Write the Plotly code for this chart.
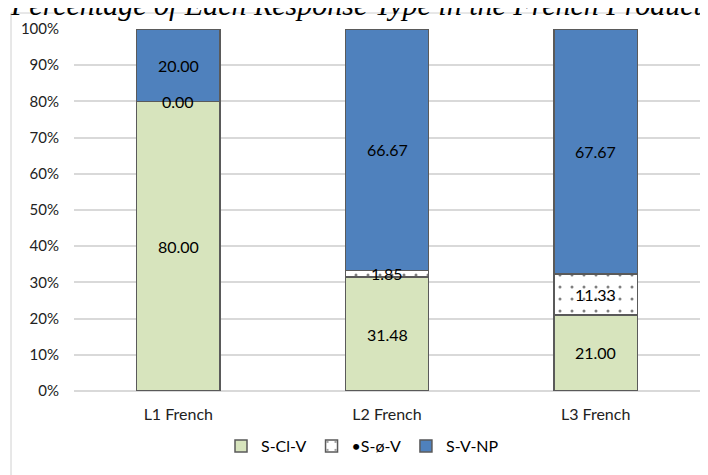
import plotly.graph_objects as go

categories = ["L1 French", "L2 French", "L3 French"]
s_cl_v = [80.00, 31.48, 21.00]
s_o_v = [0.00, 1.85, 11.33]
s_v_np = [20.00, 66.67, 67.67]
series_names = ["S-Cl-V", "•S-ø-V", "S-V-NP"]
y_ticks = [0, 10, 20, 30, 40, 50, 60, 70, 80, 90, 100]
y_tick_text = [f"{v}%" for v in y_ticks]
title_text = "Percentage of Each Response Type in the French Production Task"

FONT = "Lato, 'Liberation Sans', sans-serif"
EDGE = "#5a5a5a"

# the page body has an 8px margin; work in page pixels and convert
OFF = 8
PL, PR, PT, PB = 74, 700, 29, 391          # plot area in page pixels
L, R, T, B = PL - OFF, PR - OFF, PT - OFF, PB - OFF
W, H = R - L, B - T


def px_x(page_x):
    return (page_x - PL) / W


def px_y(page_y):
    return (PB - page_y) / H


fig = go.Figure()
fig.add_bar(x=categories, y=s_cl_v, name=series_names[0],
            marker=dict(color="#d7e4bd", line=dict(color=EDGE, width=1.5)))
fig.add_bar(x=categories, y=s_o_v, name=series_names[1],
            marker=dict(color="white", line=dict(color=EDGE, width=1.5),
                        pattern=dict(shape=".", fgcolor="black", bgcolor="white",
                                     size=12, solidity=0.05)))
fig.add_bar(x=categories, y=s_v_np, name=series_names[2],
            marker=dict(color="#4f81bd", line=dict(color=EDGE, width=1.5)))

# data labels at the middle of each segment
for i, cat in enumerate(categories):
    base = 0
    for vals in (s_cl_v, s_o_v, s_v_np):
        v = vals[i]
        fig.add_annotation(x=cat, y=base + v / 2, text=f"{v:.2f}", showarrow=False,
                           font=dict(family=FONT, size=16, color="black"),
                           xref="x", yref="y")
        base += v

# title, clipped at the top of the page as in the reference
fig.add_annotation(xref="paper", yref="paper", x=px_x(8), y=px_y(23),
                   xanchor="left", yanchor="bottom", text=f"<i>{title_text}</i>",
                   showarrow=False,
                   font=dict(family="'Liberation Serif', 'Times New Roman', serif", size=30,
                             color="black"))

# outer chart frame
fig.add_shape(type="rect", xref="paper", yref="paper",
              x0=px_x(11), x1=px_x(720), y0=px_y(490), y1=px_y(13),
              line=dict(color="#d0d0d0", width=1), fillcolor="rgba(0,0,0,0)", layer="below")

fig.update_layout(
    barmode="stack",
    bargap=0.6,
    width=708, height=475,
    margin=dict(l=L, r=708 - R, t=T, b=475 - B, autoexpand=False),
    paper_bgcolor="white", plot_bgcolor="white",
    font=dict(family=FONT, size=15, color="#222222"),
    showlegend=True,
    legend=dict(orientation="h", x=px_x(221), xanchor="left", y=px_y(446),
                yanchor="middle", font=dict(family=FONT, size=16, color="black"),
                traceorder="normal", itemwidth=30, bgcolor="rgba(0,0,0,0)"),
    xaxis=dict(showgrid=False, showline=False, ticks="", ticklabelstandoff=12,
               tickfont=dict(family=FONT, size=16, color="#222222")),
    yaxis=dict(range=[0, 100], tickmode="array", tickvals=y_ticks, ticktext=y_tick_text,
               showgrid=True, gridcolor="#d9d9d9", gridwidth=1.5, zeroline=True,
               zerolinecolor="#d9d9d9", zerolinewidth=1.5, showline=False,
               ticklabelstandoff=14,
               tickfont=dict(family=FONT, size=15, color="#222222")),
)

fig.write_html("out.html")
